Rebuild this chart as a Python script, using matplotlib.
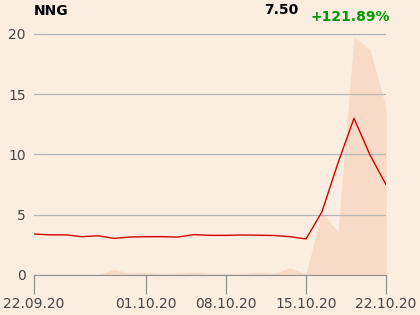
import matplotlib.pyplot as plt

dates = ["22.09.20", "23.09.20", "24.09.20", "25.09.20", "28.09.20", "29.09.20",
         "30.09.20", "01.10.20", "02.10.20", "05.10.20", "06.10.20", "07.10.20",
         "08.10.20", "09.10.20", "12.10.20", "13.10.20", "14.10.20", "15.10.20",
         "16.10.20", "19.10.20", "20.10.20", "21.10.20", "22.10.20"]
price = [3.40, 3.33, 3.33, 3.18, 3.26, 3.04, 3.15, 3.18, 3.18, 3.15, 3.35, 3.29,
         3.29, 3.32, 3.30, 3.28, 3.18, 2.99, 5.25, 9.30, 13.0, 9.96, 7.50]
volume = [0, 0, 0, 0, 0, 0.47, 0.14, 0.22, 0.10, 0.15, 0.25, 0.12,
          0.10, 0.10, 0.22, 0.12, 0.60, 0.10, 5.2, 3.6, 19.8, 18.7, 13.9]
tick_idx = [0, 7, 12, 17, 22]
yticks = [0, 5, 10, 15, 20]

bg = "#fcede1"
x = list(range(len(dates)))

fig = plt.figure(figsize=(4.2, 3.15), dpi=100, facecolor=bg)
ax = fig.add_axes([34 / 420, 1 - 275 / 315, 352 / 420, 255 / 315])
ax.set_facecolor(bg)

ax.fill_between(x, volume, 0, color="#f8dbc6", lw=0, zorder=1)
ax.plot(x, price, color="#d40000", lw=1, zorder=3)

ax.set_xlim(0, len(dates) - 1)
ax.set_ylim(0, 21.16)
ax.set_yticks(yticks)
ax.set_xticks(tick_idx)
ax.set_xticklabels([dates[i] for i in tick_idx])
ax.set_axisbelow(False)
ax.grid(axis="y", color="#b4b4b4", lw=0.9)

for s in ["left", "right", "top"]:
    ax.spines[s].set_visible(False)
ax.spines["bottom"].set_color("#909090")
ax.tick_params(axis="y", length=0, pad=6, labelsize=10, labelcolor="#444444")
ax.tick_params(axis="x", length=14, width=0.9, color="#909090", pad=2,
               labelsize=10, labelcolor="#444444")

fig.text(34 / 420, 1 - 11 / 315, "NNG", fontsize=10, fontweight="bold",
         va="center", ha="left", color="#000000")
fig.text(298 / 420, 1 - 10 / 315, "7.50", fontsize=10, fontweight="bold",
         va="center", ha="right", color="#000000")
fig.text(390 / 420, 1 - 17 / 315, "+121.89%", fontsize=10, fontweight="bold",
         va="center", ha="right", color="#009900")

fig.savefig("out.png", dpi=100, facecolor=bg)
